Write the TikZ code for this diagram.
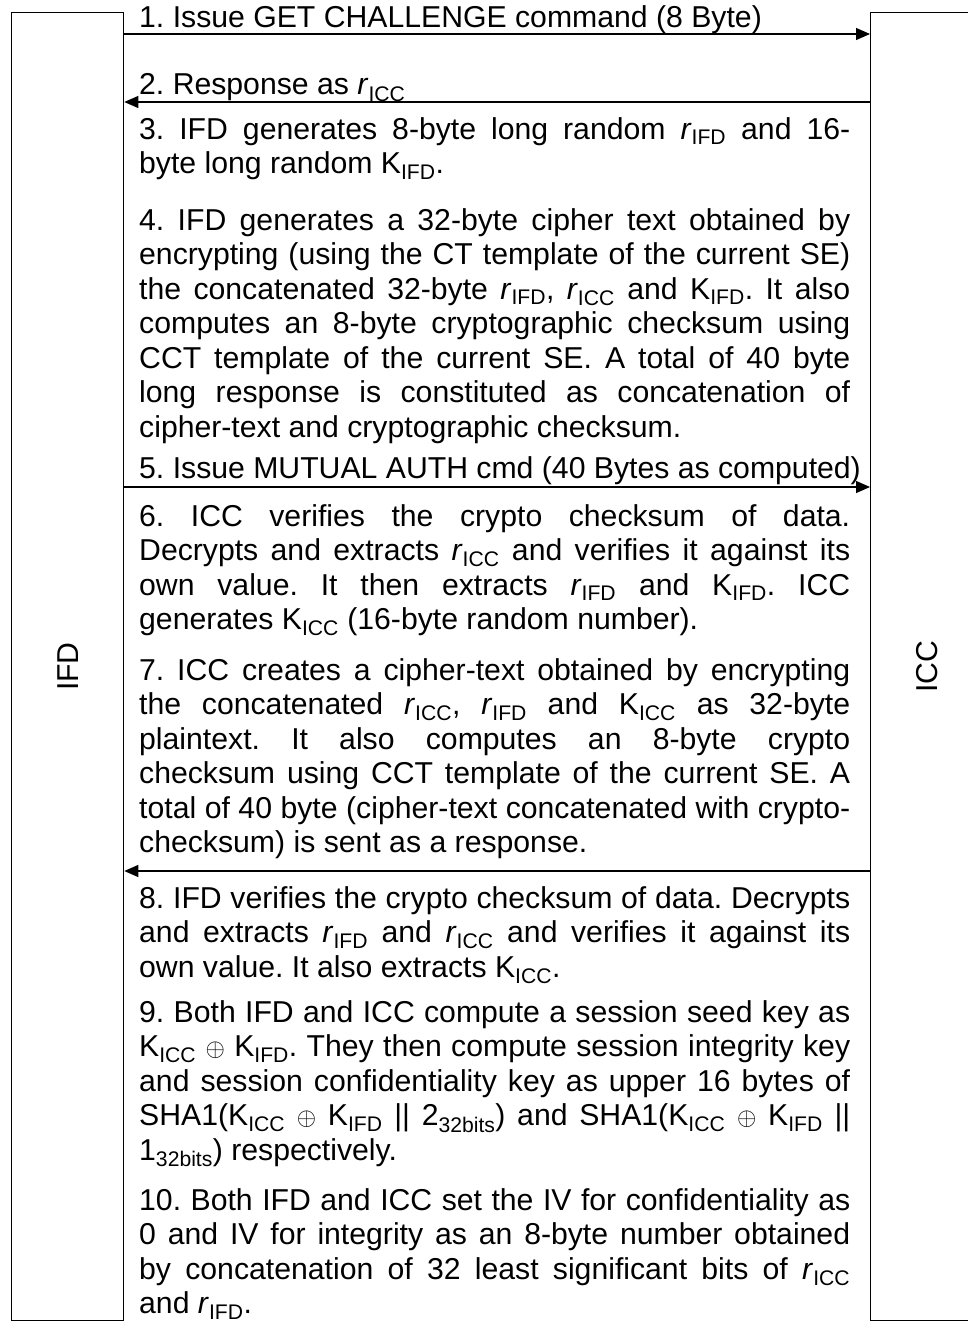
\documentclass[tikz,border=0pt]{standalone}
\usepackage{fontspec}
\setmainfont{Liberation Sans}
\usetikzlibrary{arrows.meta}
% r and K with a subscript
\newcommand{\rsub}[1]{\textit{r}\textsubscript{#1}}
\newcommand{\Ksub}[1]{K\textsubscript{#1}}
% lines are broken by hand, never hyphenate
\tolerance=10000\relax
\hyphenpenalty=10000\relax
\frenchspacing
\tikzset{
  party/.style={draw, line width=1.3pt, minimum width=112pt, inner sep=0pt, anchor=north west},
  msg/.style={line width=1.3pt, -{Triangle[length=14pt,width=12pt]}},
  steptext/.style={anchor=base west, inner sep=0pt, text width=711pt, align=justify,
    font=\fontsize{30.2}{34.5}\selectfont},
  oneline/.style={anchor=base west, inner sep=0pt, font=\fontsize{30.2}{34.5}\selectfont}
}
\begin{document}
\begin{tikzpicture}[x=1pt,y=-1pt]
\useasboundingbox (0,0) rectangle (968,1322);
% the two parties
\node[party, minimum height=1308pt] (ifd) at (11,12) {};
\node[party, minimum height=1308pt] (icc) at (870,12) {};
\node[rotate=90, font=\fontsize{30.2}{34.5}\selectfont] (ifdlabel) at (ifd.center) {IFD};
\node[rotate=90, font=\fontsize{30.2}{34.5}\selectfont] (icclabel) at (icc.center) {ICC};
% messages
\foreach \y in {34,487}  % IFD -> ICC
\draw[msg] (ifd.east |- 0,\y) -- (icc.west |- 0,\y);
\foreach \y in {102,871}  % ICC -> IFD
\draw[msg] (icc.west |- 0,\y) -- (ifd.east |- 0,\y);
% the steps
\node[oneline] (s1) at (139,28) {1. Issue GET CHALLENGE command (8 Byte)};
\node[oneline] (s2) at (139,95) {2. Response as \rsub{ICC}};
\node[steptext] (s3) at (139,139) {3. IFD generates 8-byte long random \rsub{IFD} and 16-\linebreak
byte long random \Ksub{IFD}.};
\node[steptext] (s4) at (139,230) {4. IFD generates a 32-byte cipher text obtained by\linebreak
encrypting (using the CT template of the current SE)\linebreak
the concatenated 32-byte \rsub{IFD}, \rsub{ICC} and \Ksub{IFD}. It also\linebreak
computes an 8-byte cryptographic checksum using\linebreak
CCT template of the current SE. A total of 40 byte\linebreak
long response is constituted as concatenation of\linebreak
cipher-text and cryptographic checksum.};
\node[oneline] (s5) at (139,478) {5. Issue MUTUAL AUTH cmd (40 Bytes as computed)};
\node[steptext] (s6) at (139,526) {6. ICC verifies the crypto checksum of data.\linebreak
Decrypts and extracts \rsub{ICC} and verifies it against its\linebreak
own value. It then extracts \rsub{IFD} and \Ksub{IFD}. ICC\linebreak
generates \Ksub{ICC} (16-byte random number).};
\node[steptext] (s7) at (139,680) {7. ICC creates a cipher-text obtained by encrypting\linebreak
the concatenated \rsub{ICC}, \rsub{IFD} and \Ksub{ICC} as 32-byte\linebreak
plaintext. It also computes an 8-byte crypto\linebreak
checksum using CCT template of the current SE. A\linebreak
total of 40 byte (cipher-text concatenated with crypto-\linebreak
checksum) is sent as a response.};
\node[steptext] (s8) at (139,908) {8. IFD verifies the crypto checksum of data. Decrypts\linebreak
and extracts \rsub{IFD} and \rsub{ICC} and verifies it against its\linebreak
own value. It also extracts \Ksub{ICC}.};
\node[steptext] (s9) at (139,1022) {9. Both IFD and ICC compute a session seed key as\linebreak
\Ksub{ICC} $\oplus$ \Ksub{IFD}. They then compute session integrity key\linebreak
and session confidentiality key as upper 16 bytes of\linebreak
SHA1(\Ksub{ICC} $\oplus$ \Ksub{IFD} || 2\textsubscript{32bits}) and SHA1(\Ksub{ICC} $\oplus$ \Ksub{IFD} ||\linebreak
1\textsubscript{32bits}) respectively.};
\node[steptext] (s10) at (139,1210) {10. Both IFD and ICC set the IV for confidentiality as\linebreak
0 and IV for integrity as an 8-byte number obtained\linebreak
by concatenation of 32 least significant bits of \rsub{ICC}\linebreak
and \rsub{IFD}.};
\end{tikzpicture}
\end{document}
